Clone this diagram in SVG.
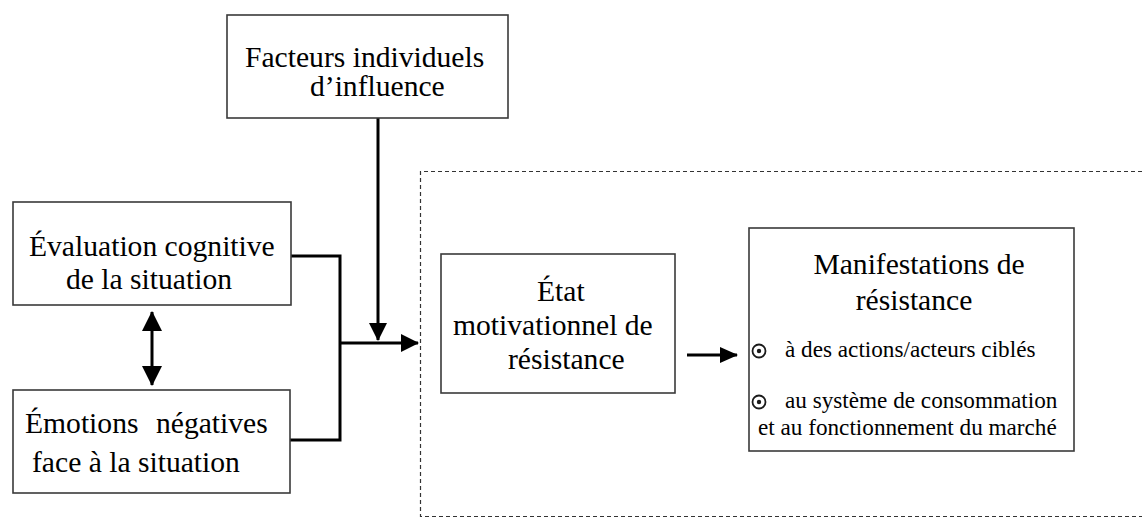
<svg xmlns="http://www.w3.org/2000/svg" width="1142" height="520" viewBox="0 0 1142 520">
  <style>
    .box { fill: #ffffff; stroke: #3a3a3a; stroke-width: 1.6; }
    .t { font-family: 'Liberation Serif', 'DejaVu Serif', serif; font-size: 29.6px; fill: #000000; }
    .s { font-family: 'Liberation Serif', 'DejaVu Serif', serif; font-size: 23.2px; fill: #000000; }
    .conn { fill: none; stroke: #000000; stroke-width: 3; }
    .frame { fill: none; stroke: #333333; stroke-width: 1.2; stroke-dasharray: 4 3; }
    .bul { fill: none; stroke: #1a1a1a; stroke-width: 1.8; }
  </style>
  <defs>
    <marker id="ah" viewBox="0 0 18 18" refX="17" refY="9" markerWidth="18" markerHeight="18" markerUnits="userSpaceOnUse" orient="auto-start-reverse">
      <path d="M0,0 L18,9 L0,18 z" fill="#000000"/>
    </marker>
    <marker id="ahs" viewBox="0 0 18 16" refX="17" refY="8" markerWidth="18" markerHeight="16" markerUnits="userSpaceOnUse" orient="auto-start-reverse">
      <path d="M0,0 L18,8 L0,16 z" fill="#000000"/>
    </marker>
    <marker id="ahd" viewBox="0 0 20 20" refX="19" refY="10" markerWidth="20" markerHeight="20" markerUnits="userSpaceOnUse" orient="auto-start-reverse">
      <path d="M0,0 L20,10 L0,20 z" fill="#000000"/>
    </marker>
    <g id="bullet">
      <circle class="bul" cx="0" cy="0" r="6.5"/>
      <circle cx="0" cy="0" r="2.2" fill="#1a1a1a"/>
    </g>
  </defs>

  <g id="frame">
    <path class="frame" d="M1142,171.5 H420.5 V516.5 H1142"/>
  </g>

  <g id="connectors">
    <path class="conn" d="M291,256 H340 V440 H290"/>
    <line class="conn" x1="340" y1="343" x2="418" y2="343" marker-end="url(#ah)"/>
    <line class="conn" x1="378" y1="118" x2="378" y2="340" marker-end="url(#ah)"/>
    <line class="conn" x1="152" y1="312" x2="152" y2="385" marker-start="url(#ahd)" marker-end="url(#ahd)"/>
    <line class="conn" x1="687" y1="355" x2="737" y2="355" marker-end="url(#ahs)"/>
  </g>

  <g id="facteurs">
    <rect class="box" x="227" y="15" width="281" height="103"/>
    <text class="t" x="245" y="67">Facteurs individuels</text>
    <text class="t" x="310" y="96">d’influence</text>
  </g>

  <g id="evaluation">
    <rect class="box" x="13" y="202" width="278" height="103"/>
    <text class="t" x="29" y="256">Évaluation cognitive</text>
    <text class="t" x="66" y="289">de la situation</text>
  </g>

  <g id="emotions">
    <rect class="box" x="13" y="390" width="277" height="103"/>
    <text class="t" y="433"><tspan x="25">Émotions</tspan><tspan x="156">négatives</tspan></text>
    <text class="t" x="32" y="472">face à la situation</text>
  </g>

  <g id="etat">
    <rect class="box" x="441" y="254" width="234" height="139"/>
    <text class="t" x="537" y="301">État</text>
    <text class="t" x="453" y="335">motivationnel de</text>
    <text class="t" x="508" y="369">résistance</text>
  </g>

  <g id="manifestations">
    <rect class="box" x="749" y="228" width="325" height="223"/>
    <text class="t" x="919" y="274" text-anchor="middle">Manifestations de</text>
    <text class="t" x="914" y="310" text-anchor="middle">résistance</text>
    <use href="#bullet" x="759" y="351"/>
    <text class="s" x="785" y="357">à des actions/acteurs ciblés</text>
    <use href="#bullet" x="759" y="402"/>
    <text class="s" x="785" y="408">au système de consommation</text>
    <text class="s" x="758" y="435">et au fonctionnement du marché</text>
  </g>
</svg>
